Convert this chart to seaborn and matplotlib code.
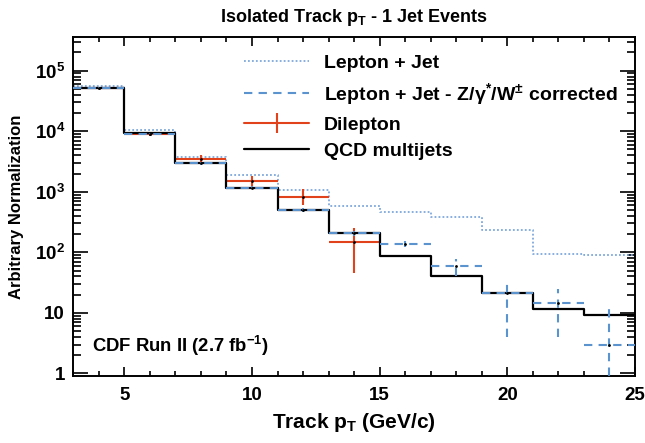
import numpy as np
import pandas as pd
import matplotlib
matplotlib.use("Agg")
import matplotlib.pyplot as plt
import seaborn as sns
from matplotlib.lines import Line2D
from matplotlib.ticker import LogLocator, NullFormatter, FixedLocator, FixedFormatter, MultipleLocator

# бины по pT трека (ГэВ/c)
edges = np.arange(3, 26, 2)
centers = (edges[:-1] + edges[1:]) / 2

# значения
qcd = [5.25e4, 9.3e3, 3.0e3, 1.15e3, 500, 210, 87, 40, 21, 11.6, 9.1]
lepjet = [5.5e4, 1.05e4, 3.8e3, 1.9e3, 1.07e3, 590, 460, 390, 230, 95, 89]
corr = [5.2e4, 9.0e3, 2.95e3, 1.17e3, 510, 205, 138, 60, 21, 14.5, 2.9]
corr_lo = [1000, 300, 150, 70, 40, 20, 15, 19, 17, 10.5, 2.6]
corr_hi = [1000, 300, 150, 70, 40, 20, 15, 18, 15, 10.5, 9.6]
dilep = [5.2e4, 9.1e3, 3.5e3, 1.5e3, 830, 150]
dilep_lo = [1500, 600, 450, 280, 215, 104]
dilep_hi = [1500, 600, 520, 345, 290, 100]

ytick_vals = [1, 10, 100, 1e3, 1e4, 1e5]
ytick_labels = ["1", "10", r"$10^{2}$", r"$10^{3}$", r"$10^{4}$", r"$10^{5}$"]

hist_df = pd.DataFrame({"pt": centers, "qcd": qcd, "lepjet": lepjet})

sns.set_style("ticks")
plt.rcParams["font.family"] = ["Liberation Sans", "DejaVu Sans"]
plt.rcParams["font.weight"] = "bold"
plt.rcParams["mathtext.fontset"] = "custom"
plt.rcParams["mathtext.rm"] = "Liberation Sans:bold"
plt.rcParams["mathtext.it"] = "Liberation Sans:bold"
plt.rcParams["mathtext.bf"] = "Liberation Sans:bold"
for key in ["text.color", "axes.labelcolor", "xtick.color", "ytick.color", "axes.edgecolor"]:
    plt.rcParams[key] = "black"

c_dot = "#7ea8dc"
c_dash = "#5b93cf"
c_red = "#e2421b"

fig = plt.figure(figsize=(6.45, 4.43), dpi=100)
ax = fig.add_axes([0.1136, 0.152, 0.8709, 0.7645])

# гистограммы
sns.histplot(data=hist_df, x="pt", weights="lepjet", bins=list(edges), element="step", fill=False,
             color=c_dot, linestyle=(0, (1, 1.2)), linewidth=1.3, ax=ax, zorder=2)
sns.histplot(data=hist_df, x="pt", weights="qcd", bins=list(edges), element="step", fill=False,
             color="black", linewidth=1.6, ax=ax, zorder=4)

# скорректированный Lepton + Jet
eb = ax.errorbar(centers, corr, xerr=1, yerr=[corr_lo, corr_hi], fmt=".", color=c_dash,
                 ms=2, mfc="black", mec="black", elinewidth=1.5, capsize=0, zorder=5)
for lc in eb[2]:
    lc.set_linestyle((0, (4, 3)))

# Dilepton
eb_d = ax.errorbar(centers[:len(dilep)], dilep, xerr=1, yerr=[dilep_lo, dilep_hi], fmt=".",
                   color=c_red, ms=2, mfc="black", mec="black", elinewidth=1.5, capsize=0, zorder=3)

ax.set_yscale("log")
ax.set_xlim(3, 25)
ax.set_ylim(0.92, 3.6e5)

ax.xaxis.set_major_locator(MultipleLocator(5))
ax.xaxis.set_minor_locator(MultipleLocator(1))
ax.yaxis.set_major_locator(FixedLocator(ytick_vals))
ax.yaxis.set_major_formatter(FixedFormatter(ytick_labels))
ax.yaxis.set_minor_locator(LogLocator(base=10, subs=np.arange(2, 10)))
ax.yaxis.set_minor_formatter(NullFormatter())

ax.tick_params(axis="both", which="both", direction="in", top=True, right=True,
               width=1.2, labelsize=13.5)
ax.tick_params(axis="x", which="major", length=6.5, pad=8)
ax.tick_params(axis="x", which="minor", length=3.6)
ax.tick_params(axis="y", which="major", length=11, pad=6)
ax.tick_params(axis="y", which="minor", length=5.5)
for lbl in ax.get_xticklabels() + ax.get_yticklabels():
    lbl.set_fontweight("bold")
for s in ax.spines.values():
    s.set_linewidth(1.4)

ax.set_xlabel(r"Track p$_{\mathbf{T}}$ (GeV/c)", fontsize=15, fontweight="bold", labelpad=5)
ax.set_ylabel("Arbitrary Normalization", fontsize=12, fontweight="bold", labelpad=8)
ax.set_title(r"Isolated Track p$_{\mathbf{T}}$ - 1 Jet Events", fontsize=13,
             fontweight="bold", pad=11)

ax.text(0.033, 0.07, r"CDF Run II (2.7 fb$^{-1}$)", transform=ax.transAxes,
        fontsize=13.3, fontweight="bold")

handles = [
    Line2D([], [], color=c_dot, linestyle=(0, (1, 1.2)), linewidth=1.3),
    Line2D([], [], color=c_dash, linestyle=(0, (4, 3)), linewidth=1.5),
    Line2D([], [], color=c_red, linewidth=1.5, marker="|", markersize=14, markeredgewidth=1.5),
    Line2D([], [], color="black", linewidth=1.6),
]
labels = ["Lepton + Jet", r"Lepton + Jet - Z/γ$^{*}$/W$^{\pm}$ corrected", "Dilepton", "QCD multijets"]
ax.legend(handles, labels, loc="upper left", bbox_to_anchor=(0.273, 1.0), frameon=False,
          handlelength=3.35, handletextpad=0.77, labelspacing=0.46, numpoints=1,
          prop={"weight": "bold", "size": 14})

fig.savefig("out.png", dpi=100)
